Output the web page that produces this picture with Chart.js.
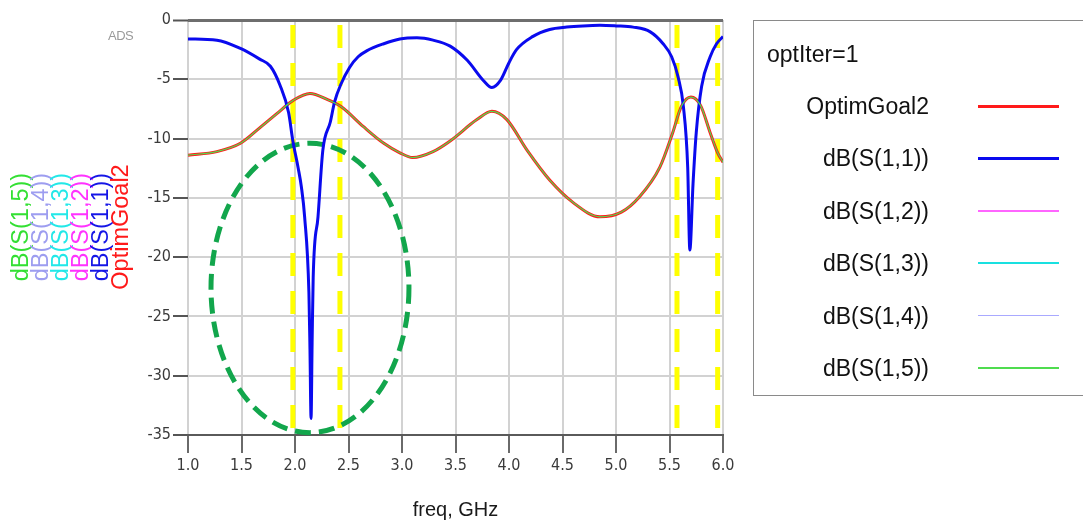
<!DOCTYPE html>
<html>
<head>
<meta charset="utf-8">
<script src="https://cdn.jsdelivr.net/npm/chart.js@4.4.1/dist/chart.umd.min.js"></script>
<style>
  html, body { margin: 0; padding: 0; background: #fff; }
  #wrap { position: relative; width: 1083px; height: 527px; overflow: hidden; font-family: "Liberation Sans", Arial, sans-serif; }
  #plot { position: absolute; left: 0; top: 0; }
  .ytitle { position: absolute; top: 227px; white-space: nowrap; font-size: 23.5px; line-height: 20px;
            transform: translate(-50%, -50%) rotate(-90deg); }
  #ads { position: absolute; left: 108px; top: 28px; font-size: 13px; color: #9a9a9a; letter-spacing: -0.5px; }
  #legend { position: absolute; left: 753px; top: 20px; width: 360px; height: 376px; border: 1.5px solid #8a8a8a; box-sizing: border-box; }
  #legend .hdr { position: absolute; left: 13px; top: 20px; font-size: 23px; color: #111; }
  #legend .name { position: absolute; right: 183px; font-size: 23px; color: #111; transform: translateY(-50%); white-space: nowrap; }
  #legend .swatch { position: absolute; left: 224px; width: 81px; }
</style>
</head>
<body>
<div id="wrap">
  <canvas id="plot" width="1083" height="527"></canvas>
  <div id="ads">ADS</div>
  <div id="legend"><div class="hdr">optIter=1</div></div>
</div>
<script>
// Sweep frequencies (GHz) and magnitudes (dB) for each trace
const s11Freq = [1.00, 1.27, 1.49, 1.67, 1.77, 1.86, 1.94, 1.98, 2.03, 2.06, 2.09, 2.13, 2.14, 2.15, 2.16, 2.17, 2.215, 2.26, 2.33, 2.37, 2.43, 2.51, 2.59, 2.67, 2.83, 2.98, 3.14, 3.29, 3.45, 3.61, 3.76, 3.84, 3.92, 4.00, 4.07, 4.22, 4.38, 4.54, 4.69, 4.85, 5.00, 5.16, 5.32, 5.44, 5.52, 5.58, 5.63, 5.67, 5.69, 5.72, 5.75, 5.80, 5.88, 5.94, 6.00];
const s11dB   = [-1.6, -1.7, -2.4, -3.3, -3.9, -5.5, -7.8, -10.2, -12.5, -14.1, -16.6, -23.0, -27.8, -33.6, -27.2, -21.7, -16.6, -11.0, -8.6, -6.9, -5.4, -4.0, -3.1, -2.6, -2.0, -1.6, -1.5, -1.7, -2.2, -3.4, -5.1, -5.7, -5.1, -3.6, -2.5, -1.4, -0.8, -0.6, -0.5, -0.45, -0.5, -0.6, -1.0, -2.0, -3.1, -4.8, -7.3, -12.4, -19.4, -13.8, -9.5, -5.6, -3.1, -2.0, -1.4];

const goalFreq = [1.00, 1.27, 1.49, 1.67, 1.83, 1.98, 2.14, 2.30, 2.43, 2.64, 2.83, 2.98, 3.10, 3.29, 3.45, 3.70, 3.84, 3.98, 4.17, 4.38, 4.60, 4.85, 5.05, 5.22, 5.41, 5.53, 5.61, 5.70, 5.79, 5.88, 5.95, 6.00];
const goaldB   = [-11.4, -11.1, -10.4, -9.1, -7.9, -6.8, -6.2, -6.7, -7.3, -9.0, -10.4, -11.2, -11.6, -11.1, -10.2, -8.4, -7.7, -8.4, -11.0, -13.5, -15.4, -16.6, -16.2, -14.9, -12.4, -9.5, -7.3, -6.5, -7.2, -9.5, -11.2, -12.0];

// dB(S(1,5)) sits on top of the goal trace
const s15Freq = goalFreq;
const s15dB   = goaldB;

// Trace names and colours (legend order)
const seriesNames  = ["OptimGoal2", "dB(S(1,1))", "dB(S(1,2))", "dB(S(1,3))", "dB(S(1,4))", "dB(S(1,5))"];
const seriesColors = ["#ff1a1a", "#0a0aee", "#ff66ff", "#19e0e0", "#a9a9ff", "#4fdc4f"];
const seriesWidths = [3, 3, 1.5, 1.5, 1.5, 1.5];
const titleColors  = ["#ff1a1a", "#1515e6", "#ff33ff", "#22e8e8", "#9d9df0", "#33e033"];

// Axis ticks
const xTicks = [1.0, 1.5, 2.0, 2.5, 3.0, 3.5, 4.0, 4.5, 5.0, 5.5, 6.0];
const yTicks = [0, -5, -10, -15, -20, -25, -30, -35];

// Band-edge markers (GHz) and the highlighted notch region
const markerFreqs = [1.98, 2.42, 5.57, 5.95];
const notchCenter = [2.14, -22.6];
const notchRadius = [0.925, 12.2];

const pts = (xs, ys) => xs.map((x, i) => ({ x: x, y: ys[i] }));

const seriesData = [
  pts(goalFreq, goaldB),
  pts(s11Freq, s11dB),
  [], [], [],
  pts(s15Freq, s15dB)
];
const drawOrder = [2, 1, 3, 3, 3, 0];

const tickFont = { family: "'Liberation Sans Narrow', 'DejaVu Sans Condensed', 'Liberation Sans', Arial, sans-serif", size: 16 };

const markers = {
  id: 'markers',
  beforeDatasetsDraw(chart) {
    const { ctx, chartArea, scales } = chart;
    const xs = scales.x, ys = scales.y;
    ctx.save();
    // yellow band-edge lines
    ctx.strokeStyle = '#ffff00';
    ctx.lineWidth = 5;
    ctx.setLineDash([23, 15]);
    ctx.lineDashOffset = 33;
    markerFreqs.forEach(f => {
      const px = xs.getPixelForValue(f);
      ctx.beginPath();
      ctx.moveTo(px, chartArea.top);
      ctx.lineTo(px, chartArea.bottom);
      ctx.stroke();
    });
    // dashed ellipse around the notch
    const cx = xs.getPixelForValue(notchCenter[0]);
    const cy = ys.getPixelForValue(notchCenter[1]);
    const rx = Math.abs(xs.getPixelForValue(notchCenter[0] + notchRadius[0]) - cx);
    const ry = Math.abs(ys.getPixelForValue(notchCenter[1] + notchRadius[1]) - cy);
    ctx.strokeStyle = '#12a64c';
    ctx.lineWidth = 5;
    ctx.setLineDash([16, 8]);
    ctx.lineDashOffset = 0;
    ctx.beginPath();
    ctx.ellipse(cx, cy, rx, ry, 0, 0, Math.PI * 2);
    ctx.stroke();
    ctx.restore();
  }
};

new Chart(document.getElementById('plot'), {
  type: 'line',
  data: {
    datasets: seriesNames.map((name, i) => ({
      label: name,
      data: seriesData[i],
      borderColor: seriesColors[i],
      borderWidth: i === 5 ? 1.2 : seriesWidths[i],
      pointRadius: 0,
      fill: false,
      cubicInterpolationMode: 'monotone',
      order: drawOrder[i]
    }))
  },
  options: {
    responsive: false,
    animation: false,
    events: [],
    layout: { padding: { left: 0, right: 360, top: 20, bottom: 0 } },
    plugins: { legend: { display: false }, tooltip: { enabled: false } },
    scales: {
      x: {
        type: 'linear',
        min: 1, max: 6,
        afterBuildTicks: s => { s.ticks = xTicks.map(v => ({ value: v })); },
        afterFit: s => { s.height = 92; },
        ticks: { font: tickFont, color: '#3a3a3a', padding: 3, maxRotation: 0, callback: v => Number(v).toFixed(1) },
        grid: { color: '#d2d2d2', lineWidth: 2, tickLength: 18, tickColor: '#6a6a6a', tickWidth: 2 },
        border: { display: true, color: '#5a5a5a', width: 2 },
        title: { display: true, text: 'freq, GHz', font: { family: "'Liberation Sans', Arial, sans-serif", size: 20 }, color: '#1a1a1a', padding: { top: 5, bottom: 5 } }
      },
      y: {
        type: 'linear',
        min: -35, max: 0,
        afterBuildTicks: s => { s.ticks = yTicks.map(v => ({ value: v })); },
        afterFit: s => { s.width = 188; },
        ticks: { font: tickFont, color: '#3a3a3a', padding: 2 },
        grid: {
          color: c => (c.tick && c.tick.value === 0) ? '#6e6e6e' : '#d2d2d2',
          lineWidth: c => (c.tick && c.tick.value === 0) ? 3 : 2,
          tickLength: 15, tickColor: '#555', tickWidth: 2
        },
        border: { display: false }
      }
    }
  },
  plugins: [markers]
});

// Stacked vertical axis titles, one column per trace
const wrap = document.getElementById('wrap');
const titleOrder = [5, 4, 3, 2, 1, 0];
titleOrder.forEach((si, col) => {
  const d = document.createElement('div');
  d.className = 'ytitle';
  d.style.left = (20 + col * 20) + 'px';
  d.style.color = titleColors[si];
  d.textContent = seriesNames[si];
  wrap.appendChild(d);
});

// Legend box entries
const legend = document.getElementById('legend');
seriesNames.forEach((name, i) => {
  const y = 85 + i * 52.4;
  const t = document.createElement('div');
  t.className = 'name';
  t.style.top = y + 'px';
  t.textContent = name;
  legend.appendChild(t);
  const s = document.createElement('div');
  s.className = 'swatch';
  s.style.top = (y - seriesWidths[i] / 2) + 'px';
  s.style.height = seriesWidths[i] + 'px';
  s.style.background = seriesColors[i];
  legend.appendChild(s);
});
</script>
</body>
</html>
